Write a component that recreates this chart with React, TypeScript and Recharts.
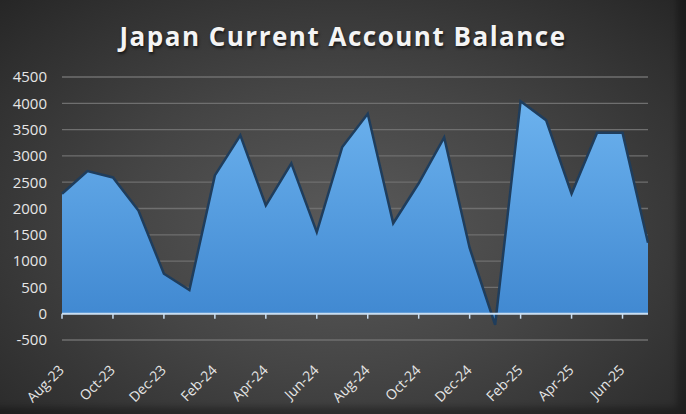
import { AreaChart, Area, XAxis, YAxis, CartesianGrid, ReferenceLine } from "recharts";

const months = [
  "Aug-23", "Sep-23", "Oct-23", "Nov-23", "Dec-23", "Jan-24",
  "Feb-24", "Mar-24", "Apr-24", "May-24", "Jun-24", "Jul-24",
  "Aug-24", "Sep-24", "Oct-24", "Nov-24", "Dec-24", "Jan-25",
  "Feb-25", "Mar-25", "Apr-25", "May-25", "Jun-25", "Jul-25",
];

// billion yen
const balance = [
  2280, 2710, 2590, 1960, 760, 450,
  2630, 3390, 2060, 2860, 1550, 3170,
  3800, 1720, 2480, 3350, 1250, -210,
  4040, 3680, 2280, 3440, 3440, 1350,
];

const yTicks = [-500, 0, 500, 1000, 1500, 2000, 2500, 3000, 3500, 4000, 4500];
const xTicks = months.filter((_, i) => i % 2 === 0);

const data = months.map((m, i) => ({ month: m, value: balance[i] }));

const FONT = "'Open Sans', sans-serif";

function MonthTick(props: any) {
  const { x, y, payload } = props;
  const tx = x + 3;
  const ty = y + 23;
  return (
    <text
      x={tx}
      y={ty}
      transform={`rotate(-45 ${tx} ${ty})`}
      textAnchor="end"
      fill="#e6e6e6"
      fontSize={14}
      fontFamily={FONT}
    >
      {payload.value}
    </text>
  );
}

export default function App() {
  return (
    <div
      style={{
        position: "absolute",
        left: 0,
        top: 0,
        width: 686,
        height: 414,
        background:
          "radial-gradient(ellipse at 50% 55%, #5a5a5a 0%, #454545 45%, #2f2f2f 85%, #262626 100%)",
        boxShadow: "inset -9px -7px 6px rgba(0,0,0,0.3)",
        overflow: "hidden",
      }}
    >
      <div
        style={{
          position: "absolute",
          left: 0,
          top: 18,
          width: 686,
          textAlign: "center",
          color: "#f4f4f4",
          fontFamily: FONT,
          fontWeight: 700,
          fontSize: 26,
          letterSpacing: 1.5,
          textShadow: "1px 2px 3px rgba(0,0,0,0.6)",
        }}
      >
        Japan Current Account Balance
      </div>
      <div style={{ position: "absolute", left: 0, top: 0 }}>
        <AreaChart
          width={686}
          height={414}
          data={data}
          margin={{ top: 77, right: 38, bottom: 4, left: 8 }}
        >
          <defs>
            <linearGradient id="areaFill" x1="0" y1="0" x2="0" y2="1">
              <stop offset="0%" stopColor="#6cb2ee" />
              <stop offset="100%" stopColor="#3f87d0" />
            </linearGradient>
          </defs>
          <CartesianGrid vertical={false} stroke="#6f6f6f" strokeWidth={1.3} />
          <XAxis
            dataKey="month"
            ticks={xTicks}
            interval={0}
            axisLine={false}
            tickLine={false}
            height={70}
            tick={<MonthTick />}
          />
          <YAxis
            domain={[-500, 4500]}
            ticks={yTicks}
            interval={0}
            axisLine={false}
            tickLine={false}
            width={54}
            tickMargin={9}
            tick={{ fill: "#e6e6e6", fontSize: 15, fontFamily: FONT }}
          />
          <Area
            type="linear"
            dataKey="value"
            baseValue={0}
            stroke="#1f3d5c"
            strokeWidth={2.5}
            fill="url(#areaFill)"
            fillOpacity={1}
            isAnimationActive={false}
          />
          <ReferenceLine y={0} stroke="#c9def2" strokeWidth={2} />
          {xTicks.map((m) => (
            <ReferenceLine
              key={m}
              segment={[
                { x: m, y: 0 },
                { x: m, y: -95 },
              ]}
              stroke="#c9def2"
              strokeWidth={1.5}
            />
          ))}
        </AreaChart>
      </div>
    </div>
  );
}
